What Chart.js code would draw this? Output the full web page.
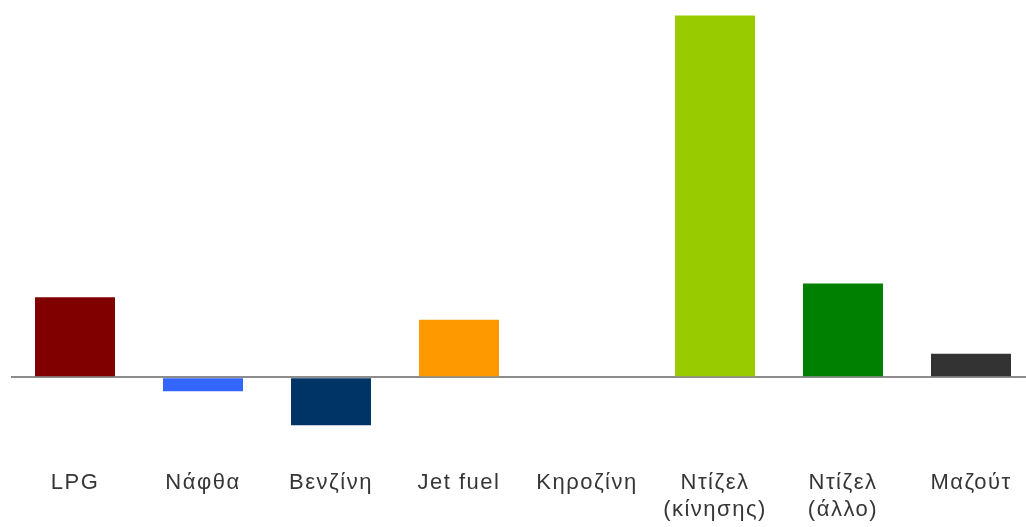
<!DOCTYPE html>
<html>
<head>
<meta charset="utf-8">
<script src="https://cdn.jsdelivr.net/npm/chart.js@4"></script>
<style>
  html, body { margin: 0; padding: 0; background: #ffffff; overflow: hidden; }
  #wrap { width: 1026px; height: 527px; overflow: hidden; }
</style>
</head>
<body>
<div id="wrap"><canvas id="c" width="1040" height="538"></canvas></div>
<script>
const categories = ['LPG', 'Νάφθα', 'Βενζίνη', 'Jet fuel', 'Κηροζίνη', ['Ντίζελ', '(κίνησης)'], ['Ντίζελ', '(άλλο)'], 'Μαζούτ'];
const values = [80, -14, -48, 57.5, 0, 361.5, 93.5, 23.5];
const barColors = ['#800000', '#3366ff', '#003366', '#ff9900', '#33ccff', '#99cc00', '#008000', '#333333'];
const yMin = -78;
const yMax = 372;

const spacingPlugin = {
  id: 'spacing',
  beforeDraw(chart) { chart.ctx.letterSpacing = '1.5px'; }
};

new Chart(document.getElementById('c'), {
  type: 'bar',
  data: {
    labels: categories,
    datasets: [{
      data: values,
      backgroundColor: barColors,
      borderWidth: 0,
      categoryPercentage: 1,
      barPercentage: 0.625
    }]
  },
  options: {
    responsive: false,
    animation: false,
    layout: { padding: { left: 11, right: 5, top: 5, bottom: 0 } },
    plugins: { legend: { display: false }, tooltip: { enabled: false }, title: { display: false } },
    scales: {
      x: {
        grid: { display: false, drawTicks: false },
        border: { display: false },
        ticks: {
          color: '#363636',
          padding: 15,
          maxRotation: 0,
          autoSkip: false,
          font: { family: '"Liberation Sans", Arial, sans-serif', size: 22, lineHeight: 1.2 }
        }
      },
      y: {
        min: yMin,
        max: yMax,
        border: { display: false },
        grid: {
          drawTicks: false,
          lineWidth: (ctx) => (ctx.tick && ctx.tick.value === 0 ? 2 : 0),
          color: (ctx) => (ctx.tick && ctx.tick.value === 0 ? '#8c8c8c' : 'rgba(0,0,0,0)')
        },
        ticks: { display: false, stepSize: 2 }
      }
    }
  },
  plugins: [spacingPlugin]
});
</script>
</body>
</html>
